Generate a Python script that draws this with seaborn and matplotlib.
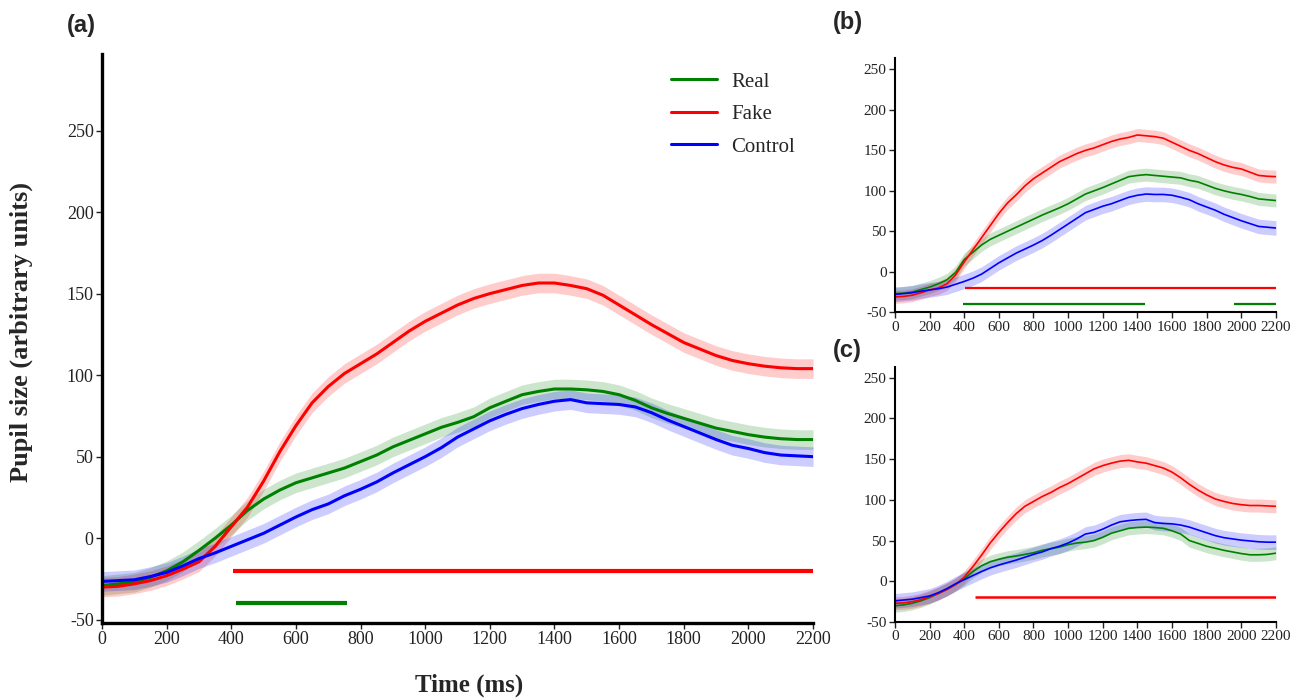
import numpy as np
import pandas as pd
import matplotlib
matplotlib.use("Agg")
import matplotlib.pyplot as plt
import seaborn as sns

# ---------------- data ----------------
time_ms = list(range(0, 2201, 50))

# Panel (a)
a_real = [-29, -28, -27, -24, -20, -14.5, -7.5, 0, 8, 17, 24, 29.5, 34, 37, 40, 43, 47, 51, 56, 60,
          64, 68, 71, 74.5, 80, 84, 88, 90, 91.5, 91.5, 91, 90, 88, 84.5, 80, 76.5, 73.5, 70.5, 67.5,
          65.5, 63.5, 62, 61, 60.5, 60.5]
a_fake = [-30, -29.5, -28, -26, -23, -19, -14.5, -5, 7, 19, 35, 53, 69, 83, 93, 101, 107, 113, 120, 127,
          133, 138, 143, 147, 150, 152.5, 155, 156.5, 156.5, 155, 153, 149, 143, 137, 131, 125.5, 120,
          116, 112, 109, 107, 105.5, 104.5, 104, 104]
a_control = [-26.5, -26, -25.5, -23.5, -21, -17, -12.5, -9, -5, -1, 3, 8, 13, 17.5, 21, 26, 30, 34.5,
             40, 45, 50, 55.5, 62, 67, 72, 76, 79.5, 82, 84, 85, 83, 82.5, 82, 80.5, 77, 72.5, 68.5,
             64.5, 60.5, 57, 55, 52.5, 51, 50.5, 50]

# Panel (b)
b_real = [-27, -26.5, -25, -22, -19, -15, -10, -1, 15, 24, 33, 40, 45, 50, 55, 60, 65, 70, 74.5, 79,
          84, 90, 96, 100, 104, 108.5, 113, 117.5, 119, 120, 119, 118, 117, 116, 113, 111, 107, 103,
          100, 97.5, 95.5, 93, 90, 89, 88]
b_fake = [-31, -30.5, -29, -26, -22.5, -20, -15, -4, 12, 27, 42, 57, 72, 85, 95, 106, 115, 122, 129,
          136, 141, 146, 150, 153, 157, 161, 164, 166, 169, 168, 167, 165, 160, 155, 150, 146, 141,
          136, 132, 129, 127, 123, 119, 118, 117.5]
b_control = [-28, -27, -26, -24, -22.5, -21, -19, -15.5, -12, -8, -3, 4, 11, 17, 23, 28, 33, 38.5, 45,
             52, 59, 66, 73, 77, 81, 84, 88, 92, 94.5, 96, 95.5, 95.5, 94.5, 92, 89, 84, 80, 76, 71,
             67, 63, 59.5, 56, 55, 54]

# Panel (c)
c_real = [-30, -29, -27, -24, -20, -15, -10, -4, 3, 12, 19, 24, 27, 29.5, 31, 33, 35, 38, 40, 42, 45,
          47, 48, 50, 54, 59, 62, 65, 66, 66.5, 66, 65, 62, 58, 50, 46.5, 43, 40.5, 38, 36, 34, 32.5,
          32.5, 33, 34.5]
c_fake = [-27, -26.5, -25, -22.5, -19, -15, -10, -4, 5, 18, 32, 47, 60, 72, 83, 92, 98, 104, 109, 115,
          120, 126, 132, 138, 142, 145, 147.5, 148.5, 146.5, 145, 142, 139, 134, 127, 119, 112, 106,
          101, 98, 95.5, 94, 93, 93, 92.5, 92]
c_control = [-24, -23, -22, -20, -18, -14, -9, -3, 2, 7, 12, 16.5, 20, 23, 26, 29.5, 33, 36, 40, 43,
             47, 52, 58, 60, 64, 69, 73, 74.5, 75.5, 76, 72, 71, 70.5, 69, 66.5, 63, 59.5, 56, 53.5,
             52, 50.5, 49.5, 48.5, 48, 48]

conditions = ["Real", "Fake", "Control"]
sem_a = [6, 6, 6]
sem_bc = [8, 8, 9]

# significance bars: (condition, start ms, end ms, y)
a_sig = [("Fake", 405, 2200, -20), ("Real", 415, 757, -40)]
b_sig = [("Fake", 404, 2200, -20), ("Real", 395, 1446, -40), ("Real", 1958, 2200, -40)]
c_sig = [("Fake", 462, 2200, -19)]

x_ticks = list(range(0, 2201, 200))
y_ticks = [-50, 0, 50, 100, 150, 200, 250]

# ---------------- style ----------------
colors = {"Real": "#008000", "Fake": "#ff0000", "Control": "#0000ff"}
sns.set_style("ticks")
plt.rcParams["font.family"] = ["Liberation Serif", "DejaVu Serif"]

fig = plt.figure(figsize=(13.04, 7.0), dpi=100)
ax_a = fig.add_axes([0.0782, 0.110, 0.5453, 0.813])
ax_b = fig.add_axes([0.6863, 0.554, 0.2922, 0.363])
ax_c = fig.add_axes([0.6863, 0.1114, 0.2922, 0.3643])


def draw(ax, series, sems, sig, lw, sig_lw, spine_w, tick_fs, ylim, legend=False):
    for cond, vals, s in zip(conditions, series, sems):
        v = np.asarray(vals, dtype=float)
        df = pd.DataFrame({"t": time_ms, "v": v})
        ax.fill_between(time_ms, v - s, v + s, color=colors[cond], alpha=0.2, linewidth=0)
        sns.lineplot(data=df, x="t", y="v", color=colors[cond], linewidth=lw, ax=ax,
                     label=cond if legend else None, legend=False)
    for cond, x0, x1, y in sig:
        ax.hlines(y, x0, x1, color=colors[cond], linewidth=sig_lw)
    ax.set_xlim(0, 2200)
    ax.set_ylim(*ylim)
    ax.set_xticks(x_ticks)
    ax.set_yticks(y_ticks)
    ax.set_xticklabels([str(t) for t in x_ticks])
    ax.set_yticklabels([str(t) for t in y_ticks])
    ax.set_xlabel("")
    ax.set_ylabel("")
    sns.despine(ax=ax)
    for sp in ("left", "bottom"):
        ax.spines[sp].set_linewidth(spine_w)
        ax.spines[sp].set_color("black")
    ax.tick_params(axis="both", labelsize=tick_fs, length=4, width=1.0, pad=2, colors="#222222")
    ax.grid(False)


draw(ax_a, [a_real, a_fake, a_control], sem_a, a_sig, 2.2, 3.0, 2.4, 13, (-52, 297), legend=True)
draw(ax_b, [b_real, b_fake, b_control], sem_bc, b_sig, 1.2, 1.6, 1.5, 11, (-50, 264))
draw(ax_c, [c_real, c_fake, c_control], sem_bc, c_sig, 1.2, 1.8, 1.5, 11, (-50, 263))

ax_a.legend(loc="upper left", bbox_to_anchor=(0.80, 0.968), frameon=False, fontsize=15,
            handlelength=2.2, handletextpad=0.7, labelspacing=0.62, borderpad=0, borderaxespad=0)

fig.text(0.016, 0.525, "Pupil size (arbitrary units)", rotation=90, ha="center", va="center",
         fontsize=19, fontweight="bold")
fig.text(0.36, 0.021, "Time (ms)", ha="center", va="center", fontsize=18, fontweight="bold")

for lbl, x, y in [("(a)", 0.051, 0.963), ("(b)", 0.639, 0.968), ("(c)", 0.639, 0.5)]:
    fig.text(x, y, lbl, ha="left", va="center", fontsize=17, fontweight="bold",
             family=["Liberation Sans", "DejaVu Sans"])

fig.savefig("out.png", dpi=100)
